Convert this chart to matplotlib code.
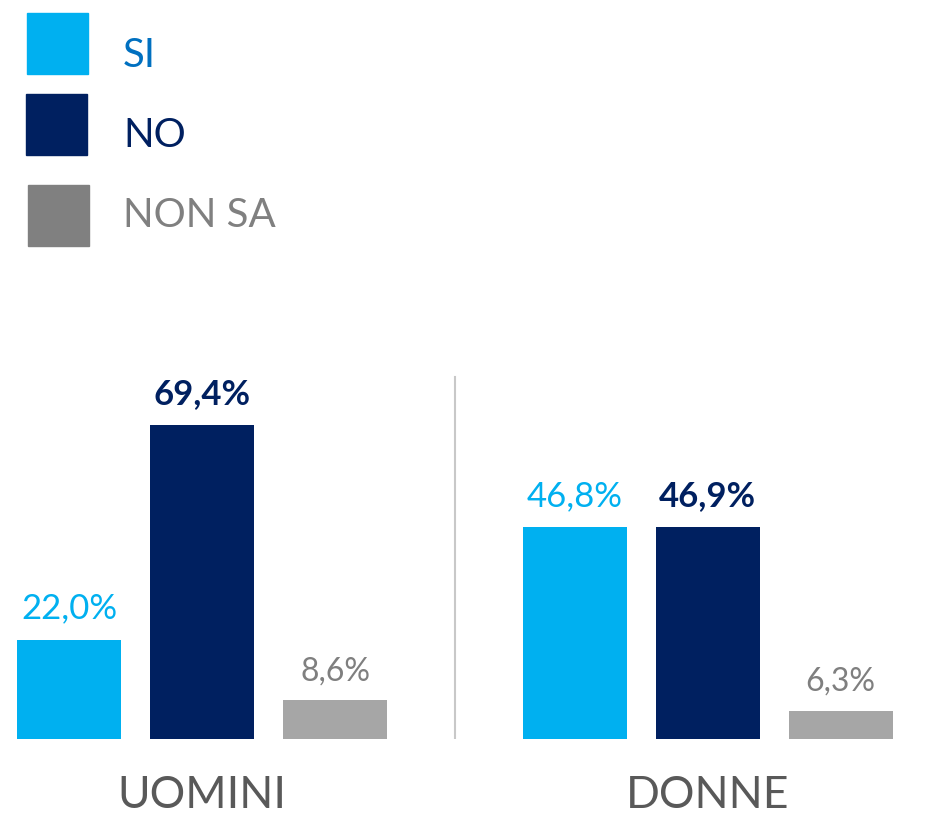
import numpy as np
import matplotlib.pyplot as plt
from matplotlib.patches import Rectangle

plt.rcParams['font.family'] = ['Lato', 'DejaVu Sans']

groups = ['UOMINI', 'DONNE']
series = ['SI', 'NO', 'NON SA']
si = [22.0, 46.8]
no = [69.4, 46.9]
non_sa = [8.6, 6.3]
values = [si, no, non_sa]

bar_colors = ['#00B0F0', '#002060', '#A6A6A6']
swatch_colors = ['#00B0F0', '#002060', '#808080']
label_colors = ['#00B0F0', '#002060', '#7F7F7F']
legend_text_colors = ['#0070C0', '#002060', '#808080']

W, H = 941, 818
fig = plt.figure(figsize=(W / 100, H / 100), dpi=100)

# bar area: baseline at y=739px, group centres at 202px and 707.5px
base = 739
px_per_pct = 4.52
gsep = 505.5
ax = fig.add_axes([0, 1 - base / H, 1, base / H])
ax.set_xlim(-202 / gsep, (W - 202) / gsep)
ax.set_ylim(0, base / px_per_pct)
ax.axis('off')

x = np.arange(len(groups))
step = 133 / gsep
width = 104 / gsep
for i, (vals, col, lcol) in enumerate(zip(values, bar_colors, label_colors)):
    xs = x + (i - 1) * step
    ax.bar(xs, vals, width=width, color=col)
    for xi, v in zip(xs, vals):
        ax.text(xi, v + (21 if i < 2 else 19.5) / px_per_pct,
                f'{v:.1f}%'.replace('.', ','), ha='center', va='baseline',
                fontsize=25 if i < 2 else 23, color=lcol,
                fontweight='bold' if i == 1 else 'normal')

# separator between groups
ax.plot([0.5, 0.5], [0, 80], color='#C8C8C8', lw=1.5)

for xi, g in zip(x, groups):
    ax.text(xi, -(808 - base) / px_per_pct, g, ha='center', va='baseline',
            fontsize=32, color='#595959')

# legend drawn in pixel coordinates
lax = fig.add_axes([0, 0, 1, 1])
lax.set_xlim(0, W)
lax.set_ylim(H, 0)
lax.axis('off')
rows = [(27, 13, 67), (26, 94, 147), (28, 185, 227)]
for (lx, ly, tb), name, sc, tc in zip(rows, series, swatch_colors, legend_text_colors):
    lax.add_patch(Rectangle((lx, ly), 61, 61, color=sc))
    lax.text(123, tb, name, ha='left', va='baseline', fontsize=29, color=tc)

fig.savefig('out.png', dpi=100)
